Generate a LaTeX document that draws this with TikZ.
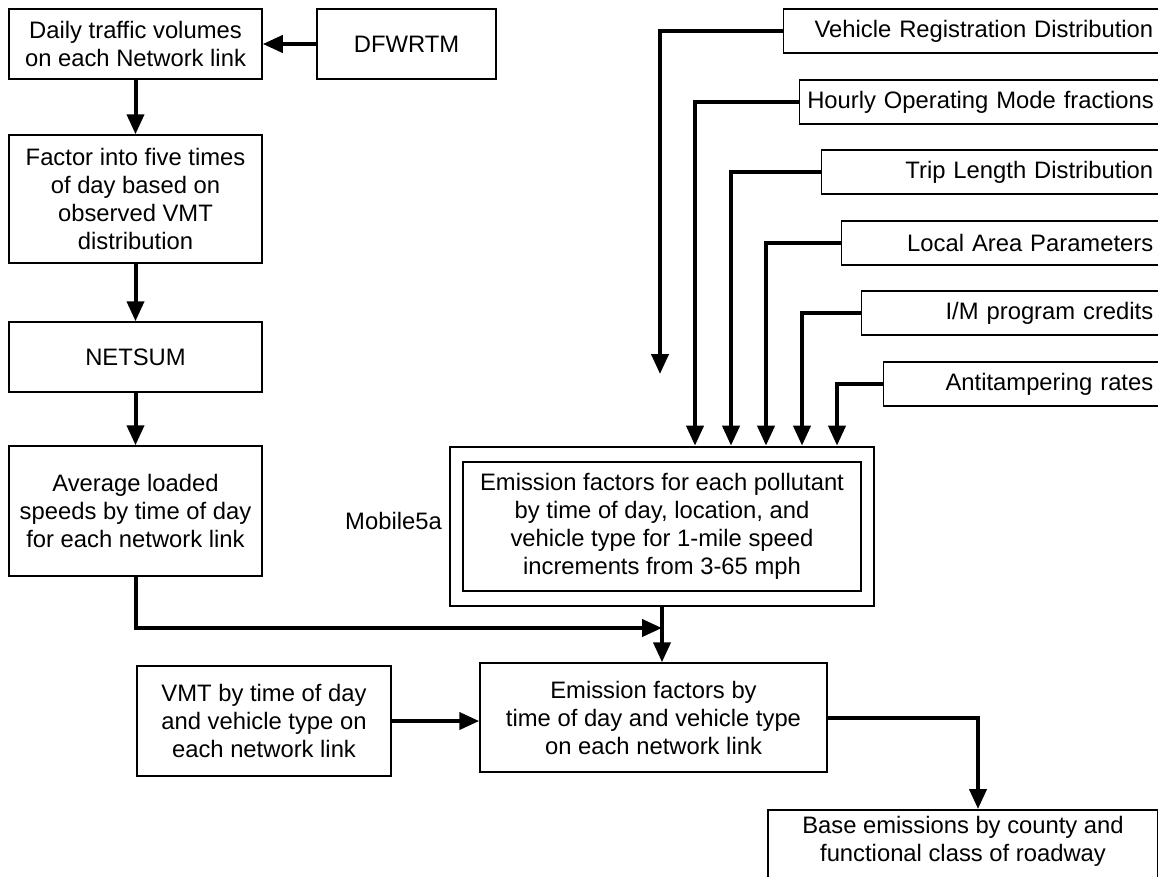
\documentclass[tikz,border=0pt]{standalone}
\usepackage{fontspec}
\setmainfont{Liberation Sans}
\usepackage{tikz}
\usetikzlibrary{arrows.meta}
\setlength{\parindent}{0pt}
\tikzstyle{process} = [rectangle, 
draw=black, 
line width=1.5pt, 
align=center, 
inner sep=0pt, 
font=\fontsize{23.8}{28}\selectfont]
\tikzstyle{inputbox} = [rectangle, 
draw=black, 
line width=1.5pt, 
anchor=east, 
align=right, 
minimum height=44pt, 
inner xsep=8pt, inner ysep=0pt, 
font=\fontsize{23.8}{28}\selectfont]
\tikzstyle{arrow} = [line width=4pt,-{Triangle[length=20pt,width=17pt]}]

\begin{document}
\begin{tikzpicture}[x=1pt,y=-1pt]
\clip (0,0) rectangle (1158,876);

% left column
\node (daily) [process, minimum width=253pt, minimum height=70pt] at (135.5,44) {Daily traffic volumes\\on each Network link};
\node (dfwrtm) [process, minimum width=179pt, minimum height=70pt] at (406.5,44) {DFWRTM};
\node (factor) [process, minimum width=253pt, minimum height=128pt] at (135.5,199) {Factor into five times\\of day based on\\observed VMT\\distribution};
\node (netsum) [process, minimum width=253pt, minimum height=70pt] at (135.5,357) {NETSUM};
\node (avg) [process, minimum width=253pt, minimum height=130pt] at (135.5,511) {Average loaded\\speeds by time of day\\for each network link};

% Mobile5a
\node (mobouter) [rectangle, draw=black, line width=2.7pt, minimum width=424pt, minimum height=159pt] at (662,526.5) {};
\node (mobile) [process, minimum width=398pt, minimum height=129pt] at (662,526.5) {Emission factors for each pollutant\\by time of day, location, and\\vehicle type for 1-mile speed\\increments from 3-65 mph};
\node (moblabel) [anchor=east, inner sep=0pt, font=\fontsize{23.8}{28}\selectfont] at (442,521) {Mobile5a};

% inputs
\node (vehreg) [inputbox, text width=362pt] at (1162,31) {\mbox{Vehicle Registration Distribution}};
\node (hourly) [inputbox, text width=346pt] at (1162,102) {\mbox{Hourly Operating Mode fractions}};
\node (trip) [inputbox, text width=324pt] at (1162,172) {\mbox{Trip Length Distribution}};
\node (local) [inputbox, text width=304pt] at (1162,243) {\mbox{Local Area Parameters}};
\node (imcred) [inputbox, text width=284pt] at (1162,313) {\mbox{I/M program credits}};
\node (antitamp) [inputbox, text width=262pt] at (1162,384) {\mbox{Antitampering rates}};

% lower part
\node (vmt) [process, minimum width=254pt, minimum height=110pt] at (264,721) {VMT by time of day\\and vehicle type on\\each network link};
\node (emis) [process, minimum width=347pt, minimum height=109pt] at (653.5,717.5) {Emission factors by\\time of day and vehicle type\\on each network link};
\node (base) [process, minimum width=390pt, anchor=north, inner ysep=6pt, text depth=60pt] at (963,809) {Base emissions by county and\\functional class of roadway};

\coordinate (vrend) at (660,374);
\coordinate (merge) at (662,628);

\draw [arrow] (dfwrtm) -- (daily);
\draw [arrow] (daily) -- (factor);
\draw [arrow] (factor) -- (netsum);
\draw [arrow] (netsum) -- (avg);
\draw [arrow] (vehreg.west) -| (vrend);
\draw [arrow] (hourly.west) -| ([xshift=33pt]mobouter.north);
\draw [arrow] (trip.west) -| ([xshift=69pt]mobouter.north);
\draw [arrow] (local.west) -| ([xshift=104pt]mobouter.north);
\draw [arrow] (imcred.west) -| ([xshift=140pt]mobouter.north);
\draw [arrow] (antitamp.west) -| ([xshift=175pt]mobouter.north);
\draw [arrow] (avg.south) |- (merge);
\draw [arrow] (mobouter.south) -- (mobouter.south |- emis.north);
\draw [arrow] (vmt.east) -- (vmt.east -| emis.west);
\draw [arrow] (emis.east) -| ([xshift=15pt]base.north);

\end{tikzpicture}
\end{document}
